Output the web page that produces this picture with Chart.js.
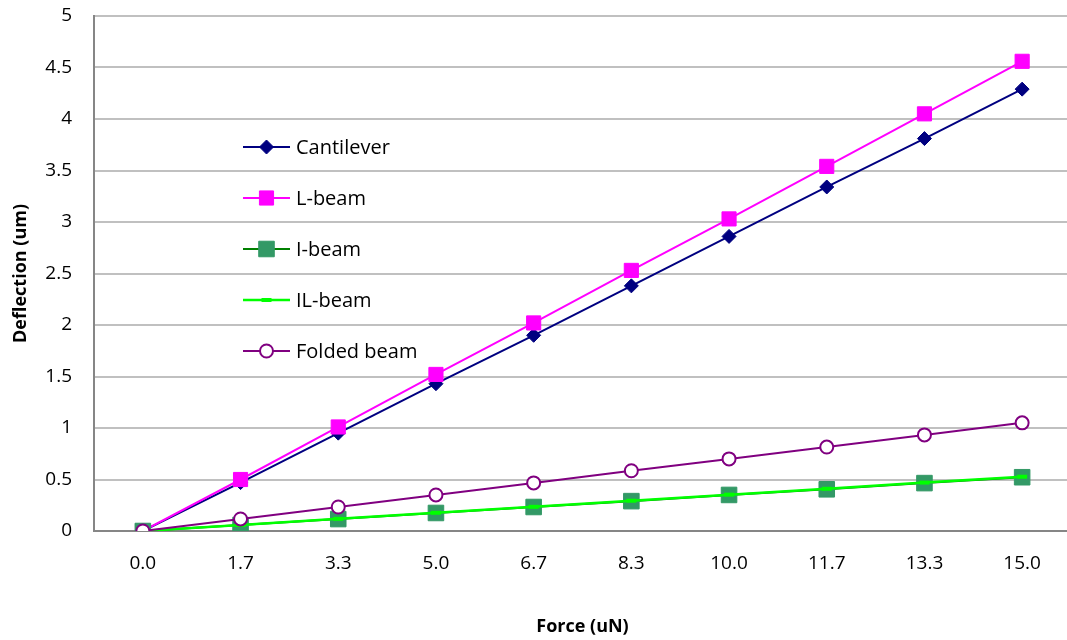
<!DOCTYPE html>
<html>
<head>
<meta charset="utf-8">
<script src="https://cdn.jsdelivr.net/npm/chart.js@4/dist/chart.umd.min.js"></script>
<style>
  html, body { margin: 0; padding: 0; background: #fff; overflow: hidden; }
  #wrap { width: 1083px; height: 640px; }
</style>
</head>
<body>
<div id="wrap"><canvas id="c" width="1083" height="640"></canvas></div>
<script>
// Applied force (uN) and resulting deflection (um) for each beam design
const forceLabels = ['0.0', '1.7', '3.3', '5.0', '6.7', '8.3', '10.0', '11.7', '13.3', '15.0'];
const cantilever  = [0, 0.47, 0.95, 1.43, 1.90, 2.38, 2.86, 3.34, 3.81, 4.29];
const lBeam       = [0, 0.50, 1.01, 1.52, 2.02, 2.53, 3.03, 3.54, 4.05, 4.56];
const iBeam       = [0, 0.058, 0.116, 0.175, 0.233, 0.29, 0.35, 0.405, 0.465, 0.522];
const ilBeam      = [0, 0.059, 0.118, 0.177, 0.235, 0.294, 0.353, 0.41, 0.47, 0.527];
const foldedBeam  = [0, 0.117, 0.233, 0.35, 0.467, 0.585, 0.70, 0.815, 0.933, 1.05];

const FONT = '"Open Sans", "Noto Sans", sans-serif';

// Legend drawn inside the plot area, one row per series
const insideLegend = {
  id: 'insideLegend',
  afterDatasetsDraw(chart) {
    const ctx = chart.ctx;
    const x0 = 243, x1 = 290, y0 = 147, step = 51;
    ctx.save();
    chart.data.datasets.forEach((ds, i) => {
      const y = y0 + i * step;
      ctx.beginPath();
      ctx.strokeStyle = ds.borderColor;
      ctx.lineWidth = ds.borderWidth;
      ctx.moveTo(x0, y);
      ctx.lineTo(x1, y);
      ctx.stroke();
      ctx.fillStyle = ds.pointBackgroundColor;
      ctx.strokeStyle = ds.pointBorderColor;
      ctx.lineWidth = ds.pointBorderWidth;
      Chart.helpers.drawPoint(ctx, {
        pointStyle: ds.pointStyle,
        radius: ds.pointRadius,
        rotation: 0,
        borderWidth: ds.pointBorderWidth
      }, (x0 + x1) / 2, y);
      ctx.fillStyle = '#000';
      ctx.font = '20px ' + FONT;
      ctx.textAlign = 'left';
      ctx.textBaseline = 'middle';
      ctx.fillText(ds.label, 296, y + 1);
    });
    ctx.restore();
  }
};

new Chart(document.getElementById('c'), {
  type: 'line',
  data: {
    labels: forceLabels,
    datasets: [
      {
        label: 'Cantilever', data: cantilever, order: 4,
        borderColor: '#000080', borderWidth: 2,
        pointStyle: 'rectRot', pointRadius: 7,
        pointBackgroundColor: '#000080', pointBorderColor: '#000080', pointBorderWidth: 1
      },
      {
        label: 'L-beam', data: lBeam, order: 3,
        borderColor: '#ff00ff', borderWidth: 2,
        pointStyle: 'rect', pointRadius: 10,
        pointBackgroundColor: '#ff00ff', pointBorderColor: '#ff00ff', pointBorderWidth: 1
      },
      {
        label: 'I-beam', data: iBeam, order: 2,
        borderColor: '#008000', borderWidth: 2,
        pointStyle: 'rect', pointRadius: 11,
        pointBackgroundColor: '#339966', pointBorderColor: '#339966', pointBorderWidth: 1
      },
      {
        label: 'IL-beam', data: ilBeam, order: 1,
        borderColor: '#00ff00', borderWidth: 2.5,
        pointStyle: 'line', pointRadius: 5,
        pointBackgroundColor: '#00ff00', pointBorderColor: '#00ff00', pointBorderWidth: 4
      },
      {
        label: 'Folded beam', data: foldedBeam, order: 0,
        borderColor: '#800080', borderWidth: 2,
        pointStyle: 'circle', pointRadius: 6.5,
        pointBackgroundColor: '#ffffff', pointBorderColor: '#800080', pointBorderWidth: 2
      }
    ]
  },
  options: {
    responsive: false,
    animation: false,
    devicePixelRatio: 1,
    layout: { padding: { left: 0, right: 0, top: 16, bottom: 0 } },
    plugins: { legend: { display: false }, tooltip: { enabled: false } },
    elements: { line: { tension: 0 } },
    scales: {
      x: {
        offset: true,
        grid: { display: false, drawTicks: false },
        border: { display: true, color: '#868686', width: 2 },
        ticks: { color: '#000', padding: 21, maxRotation: 0, autoSkip: false,
                 font: { family: FONT, size: 19 } },
        title: { display: true, text: 'Force (uN)', color: '#000',
                 padding: { top: 0, bottom: 2 },
                 font: { family: FONT, size: 18, weight: 'bold' } },
        afterFit(scale) { scale.height = 109; scale.paddingLeft = 0; scale.paddingRight = 0; }
      },
      y: {
        min: 0, max: 5,
        ticks: { stepSize: 0.5, color: '#000', padding: 22,
                 font: { family: FONT, size: 19 },
                 callback: (v) => String(+v.toFixed(1)) },
        grid: { color: '#c0c0c0', lineWidth: 2, drawTicks: false },
        border: { display: true, color: '#868686', width: 2 },
        title: { display: true, text: 'Deflection (um)', color: '#000',
                 padding: { top: 10, bottom: 0 },
                 font: { family: FONT, size: 18, weight: 'bold' } },
        afterFit(scale) { scale.width = 94; scale.paddingTop = 0; scale.paddingBottom = 0; }
      }
    }
  },
  plugins: [insideLegend]
});
</script>
</body>
</html>
